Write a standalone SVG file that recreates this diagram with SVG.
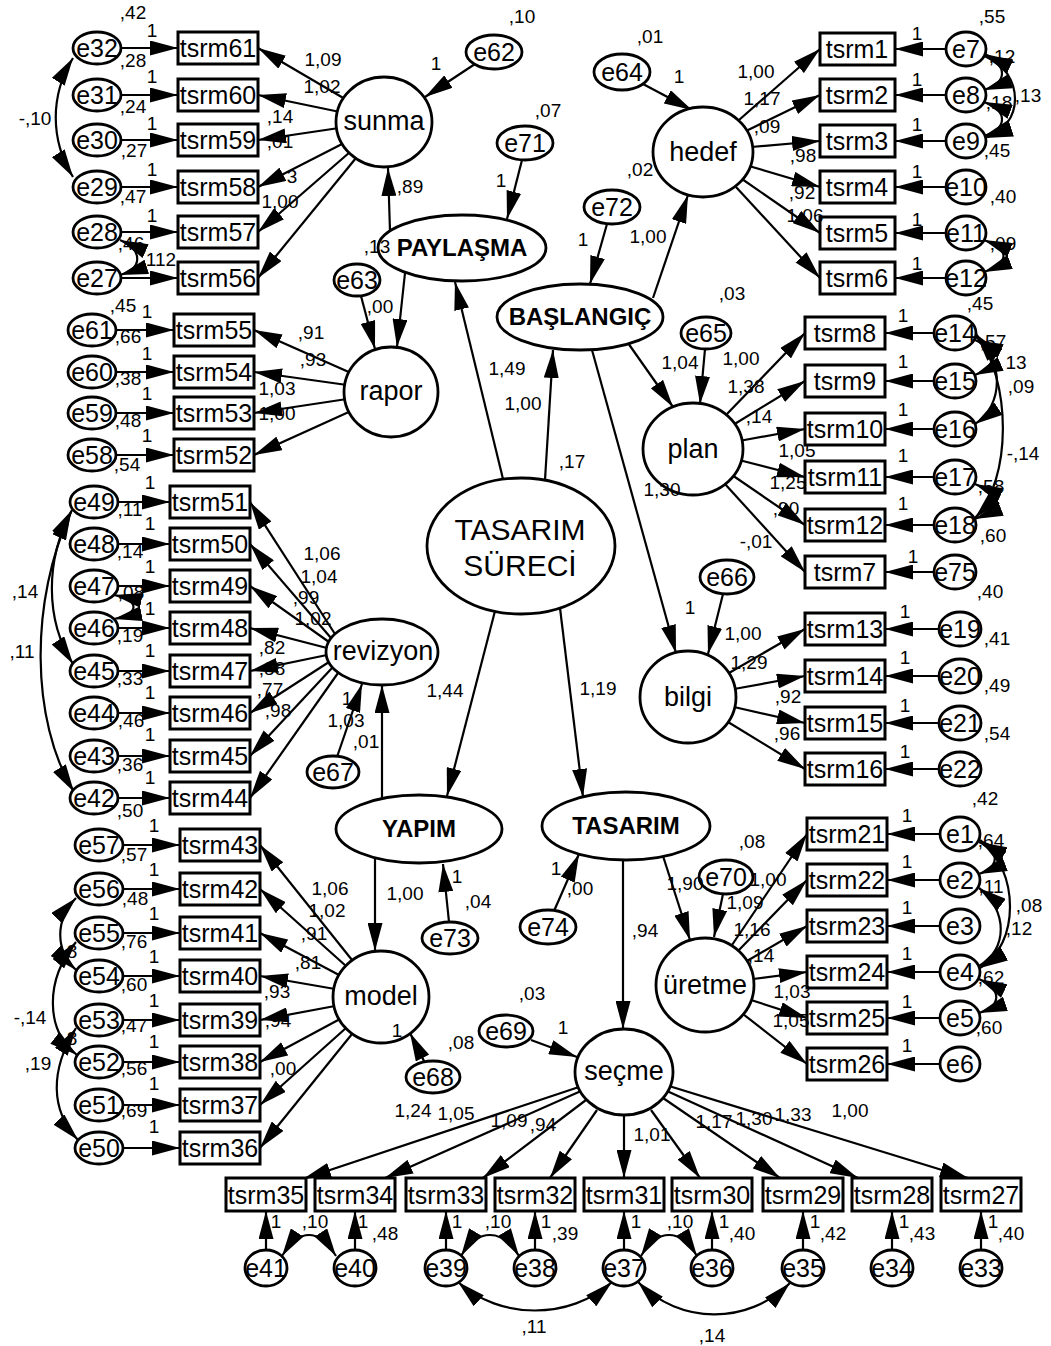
<svg xmlns="http://www.w3.org/2000/svg" width="1051" height="1346" viewBox="0 0 1051 1346">
<defs>
<marker id="a" viewBox="0 0 28 15" refX="28" refY="7.5" markerWidth="28" markerHeight="15" markerUnits="userSpaceOnUse" orient="auto-start-reverse"><path d="M0,0 L28,7.5 L0,15 z" fill="#000"/></marker>
</defs>
<style>
.c line,.c path{stroke:#000;stroke-width:2.2;fill:none;marker-end:url(#a)}
.c path.cv{marker-start:url(#a)}
.bx{fill:#fff;stroke:#000;stroke-width:3}
ellipse{fill:#fff;stroke:#000;stroke-width:2.8}
text{font-family:"Liberation Sans",Arial,sans-serif;text-anchor:middle;fill:#000}
.t{font-size:25px}
.e{font-size:25px}
.l{font-size:27px}
.b{font-size:24px;font-weight:bold}
.g{font-size:30px}
.n{font-size:19px}
</style>
<rect x="0" y="0" width="1051" height="1346" style="fill:#fff"/>
<g class="c" id="connectors">
<line x1="345" y1="99" x2="258" y2="48"/>
<line x1="340" y1="112" x2="258" y2="95"/>
<line x1="339" y1="128" x2="258" y2="140"/>
<line x1="344" y1="143" x2="258" y2="187"/>
<line x1="350" y1="152" x2="258" y2="232"/>
<line x1="356" y1="158" x2="258" y2="278"/>
<line x1="121" y1="48" x2="178" y2="48"/>
<line x1="121" y1="95" x2="178" y2="95"/>
<line x1="121" y1="140" x2="178" y2="140"/>
<line x1="121" y1="187" x2="178" y2="187"/>
<line x1="121" y1="232" x2="178" y2="232"/>
<line x1="121" y1="278" x2="178" y2="278"/>
<line x1="351" y1="373" x2="254" y2="330"/>
<line x1="347" y1="385" x2="254" y2="372"/>
<line x1="347" y1="399" x2="254" y2="413"/>
<line x1="351" y1="411" x2="254" y2="455"/>
<line x1="116" y1="330" x2="174" y2="330"/>
<line x1="116" y1="372" x2="174" y2="372"/>
<line x1="116" y1="413" x2="174" y2="413"/>
<line x1="116" y1="455" x2="174" y2="455"/>
<line x1="335" y1="634" x2="250" y2="502"/>
<line x1="331" y1="638" x2="250" y2="544"/>
<line x1="329" y1="642" x2="250" y2="586"/>
<line x1="327" y1="648" x2="250" y2="628"/>
<line x1="327" y1="655" x2="250" y2="671"/>
<line x1="329" y1="662" x2="250" y2="713"/>
<line x1="332" y1="668" x2="250" y2="756"/>
<line x1="338" y1="673" x2="250" y2="798"/>
<line x1="118" y1="502" x2="170" y2="502"/>
<line x1="118" y1="544" x2="170" y2="544"/>
<line x1="118" y1="586" x2="170" y2="586"/>
<line x1="118" y1="628" x2="170" y2="628"/>
<line x1="118" y1="671" x2="170" y2="671"/>
<line x1="118" y1="713" x2="170" y2="713"/>
<line x1="118" y1="756" x2="170" y2="756"/>
<line x1="118" y1="798" x2="170" y2="798"/>
<line x1="352" y1="960" x2="260" y2="845"/>
<line x1="346" y1="966" x2="260" y2="889"/>
<line x1="339" y1="975" x2="260" y2="933"/>
<line x1="335" y1="989" x2="260" y2="976"/>
<line x1="335" y1="1006" x2="260" y2="1020"/>
<line x1="340" y1="1019" x2="260" y2="1062"/>
<line x1="346" y1="1028" x2="260" y2="1105"/>
<line x1="352" y1="1034" x2="260" y2="1148"/>
<line x1="123" y1="845" x2="180" y2="845"/>
<line x1="123" y1="889" x2="180" y2="889"/>
<line x1="123" y1="933" x2="180" y2="933"/>
<line x1="123" y1="976" x2="180" y2="976"/>
<line x1="123" y1="1020" x2="180" y2="1020"/>
<line x1="123" y1="1062" x2="180" y2="1062"/>
<line x1="123" y1="1105" x2="180" y2="1105"/>
<line x1="123" y1="1148" x2="180" y2="1148"/>
<line x1="739" y1="120" x2="820" y2="49"/>
<line x1="746" y1="131" x2="820" y2="95"/>
<line x1="751" y1="147" x2="820" y2="141"/>
<line x1="749" y1="166" x2="820" y2="187"/>
<line x1="742" y1="179" x2="820" y2="233"/>
<line x1="736" y1="187" x2="820" y2="278"/>
<line x1="946" y1="49" x2="895" y2="49"/>
<line x1="946" y1="95" x2="895" y2="95"/>
<line x1="946" y1="141" x2="895" y2="141"/>
<line x1="946" y1="187" x2="895" y2="187"/>
<line x1="946" y1="233" x2="895" y2="233"/>
<line x1="946" y1="278" x2="895" y2="278"/>
<line x1="726" y1="415" x2="805" y2="333"/>
<line x1="733" y1="425" x2="805" y2="381"/>
<line x1="739" y1="441" x2="805" y2="429"/>
<line x1="739" y1="460" x2="805" y2="477"/>
<line x1="732" y1="475" x2="805" y2="525"/>
<line x1="725" y1="484" x2="805" y2="572"/>
<line x1="934" y1="333" x2="885" y2="333"/>
<line x1="934" y1="381" x2="885" y2="381"/>
<line x1="934" y1="429" x2="885" y2="429"/>
<line x1="934" y1="477" x2="885" y2="477"/>
<line x1="934" y1="525" x2="885" y2="525"/>
<line x1="934" y1="572" x2="885" y2="572"/>
<line x1="729" y1="673" x2="805" y2="629"/>
<line x1="734" y1="689" x2="805" y2="676"/>
<line x1="734" y1="707" x2="805" y2="723"/>
<line x1="728" y1="722" x2="805" y2="769"/>
<line x1="939" y1="629" x2="885" y2="629"/>
<line x1="939" y1="676" x2="885" y2="676"/>
<line x1="939" y1="723" x2="885" y2="723"/>
<line x1="939" y1="769" x2="885" y2="769"/>
<line x1="732" y1="945" x2="807" y2="834"/>
<line x1="738" y1="951" x2="807" y2="880"/>
<line x1="747" y1="961" x2="807" y2="926"/>
<line x1="753" y1="979" x2="807" y2="972"/>
<line x1="751" y1="1000" x2="807" y2="1018"/>
<line x1="743" y1="1014" x2="807" y2="1064"/>
<line x1="940" y1="834" x2="887" y2="834"/>
<line x1="940" y1="880" x2="887" y2="880"/>
<line x1="940" y1="926" x2="887" y2="926"/>
<line x1="940" y1="972" x2="887" y2="972"/>
<line x1="940" y1="1018" x2="887" y2="1018"/>
<line x1="940" y1="1064" x2="887" y2="1064"/>
<line x1="579" y1="1087" x2="303" y2="1179"/>
<line x1="581" y1="1091" x2="385" y2="1178"/>
<line x1="586" y1="1100" x2="483" y2="1178"/>
<line x1="597" y1="1110" x2="550" y2="1178"/>
<line x1="624" y1="1115" x2="624" y2="1178"/>
<line x1="651" y1="1110" x2="700" y2="1178"/>
<line x1="663" y1="1098" x2="780" y2="1178"/>
<line x1="667" y1="1091" x2="858" y2="1178"/>
<line x1="669" y1="1086" x2="968" y2="1178"/>
<line x1="266" y1="1250" x2="266" y2="1211"/>
<line x1="355" y1="1250" x2="355" y2="1211"/>
<line x1="446" y1="1250" x2="446" y2="1211"/>
<line x1="535" y1="1250" x2="535" y2="1211"/>
<line x1="624" y1="1250" x2="624" y2="1211"/>
<line x1="712" y1="1250" x2="712" y2="1211"/>
<line x1="803" y1="1250" x2="803" y2="1211"/>
<line x1="892" y1="1250" x2="892" y2="1211"/>
<line x1="981" y1="1250" x2="981" y2="1211"/>
<line x1="503" y1="479" x2="455" y2="282"/>
<line x1="545" y1="480" x2="553" y2="350"/>
<line x1="495" y1="611" x2="447" y2="796"/>
<line x1="560" y1="608" x2="583" y2="797"/>
<line x1="390" y1="231" x2="388" y2="168"/>
<line x1="405" y1="273" x2="397" y2="347"/>
<line x1="653" y1="298" x2="688" y2="195"/>
<line x1="628" y1="343" x2="673" y2="407"/>
<line x1="592" y1="350" x2="676" y2="653"/>
<line x1="382" y1="798" x2="382" y2="685"/>
<line x1="375" y1="858" x2="375" y2="951"/>
<line x1="623" y1="860" x2="623" y2="1029"/>
<line x1="663" y1="856" x2="690" y2="940"/>
<line x1="475" y1="64" x2="425" y2="97"/>
<line x1="361" y1="296" x2="375" y2="349"/>
<line x1="522" y1="160" x2="507" y2="219"/>
<line x1="607" y1="224" x2="590" y2="284"/>
<line x1="643" y1="84" x2="692" y2="110"/>
<line x1="705" y1="349" x2="700" y2="404"/>
<line x1="723" y1="594" x2="708" y2="654"/>
<line x1="337" y1="757" x2="362" y2="684"/>
<line x1="449" y1="922" x2="443" y2="864"/>
<line x1="554" y1="911" x2="579" y2="854"/>
<line x1="723" y1="894" x2="714" y2="937"/>
<line x1="531" y1="1040" x2="577" y2="1057"/>
<line x1="425" y1="1063" x2="410" y2="1033"/>
<path class="cv" d="M73,58 C50,95 50,140 73,177"/>
<path class="cv" d="M120,240 C143,250 143,268 120,275"/>
<path class="cv" d="M72,510 C45,560 45,620 73,664"/>
<path class="cv" d="M71,512 C30,600 30,720 74,792"/>
<path class="cv" d="M114,595 C140,600 140,614 114,619"/>
<path class="cv" d="M76,898 C55,920 55,950 76,970"/>
<path class="cv" d="M76,942 C45,980 45,1030 77,1055"/>
<path class="cv" d="M76,1028 C50,1070 50,1110 78,1140"/>
<path class="cv" d="M984,56 C1008,65 1008,82 984,90"/>
<path class="cv" d="M984,102 C1008,111 1008,128 984,136"/>
<path class="cv" d="M985,54 C1025,75 1025,125 985,138"/>
<path class="cv" d="M984,240 C1010,250 1010,262 984,272"/>
<path class="cv" d="M975,340 C998,350 998,365 975,375"/>
<path class="cv" d="M976,337 C1004,360 1004,405 975,424"/>
<path class="cv" d="M976,334 C1012,380 1012,480 975,518"/>
<path class="cv" d="M975,484 C998,494 998,510 975,519"/>
<path class="cv" d="M979,842 C1000,852 1000,866 979,874"/>
<path class="cv" d="M979,888 C1008,910 1008,950 979,966"/>
<path class="cv" d="M980,840 C1020,870 1020,945 980,968"/>
<path class="cv" d="M979,979 C1002,990 1002,1005 979,1013"/>
<path class="cv" d="M282,1256 C300,1228 318,1228 336,1256"/>
<path class="cv" d="M461,1256 C478,1228 502,1228 519,1256"/>
<path class="cv" d="M641,1256 C658,1228 680,1228 697,1256"/>
<path class="cv" d="M458,1282 C500,1320 570,1320 612,1282"/>
<path class="cv" d="M638,1282 C680,1325 748,1325 790,1283"/>
</g>
<g id="TASARIM_SURECI"><ellipse cx="521" cy="546" rx="94" ry="68"/><text class="g" x="520" y="540">TASARIM</text><text class="g" x="520" y="576">SÜRECİ</text></g>
<g id="PAYLASMA"><ellipse cx="462" cy="248" rx="84" ry="33"/><text class="b" x="462" y="256">PAYLAŞMA</text></g>
<g id="BASLANGIC"><ellipse cx="580" cy="317" rx="83" ry="33"/><text class="b" x="580" y="325">BAŞLANGIÇ</text></g>
<g id="YAPIM"><ellipse cx="419" cy="829" rx="83" ry="34"/><text class="b" x="419" y="837">YAPIM</text></g>
<g id="TASARIM"><ellipse cx="626" cy="826" rx="84" ry="34"/><text class="b" x="626" y="834">TASARIM</text></g>
<g id="sunma"><ellipse cx="384" cy="122" rx="48" ry="45"/><text class="l" x="384" y="130">sunma</text></g>
<g id="rapor"><ellipse cx="391" cy="392" rx="47" ry="45"/><text class="l" x="391" y="400">rapor</text></g>
<g id="revizyon"><ellipse cx="382" cy="652" rx="56" ry="33"/><text class="l" x="383" y="660">revizyon</text></g>
<g id="model"><ellipse cx="381" cy="997" rx="48" ry="46"/><text class="l" x="381" y="1005">model</text></g>
<g id="hedef"><ellipse cx="703" cy="152" rx="50" ry="45"/><text class="l" x="703" y="161">hedef</text></g>
<g id="plan"><ellipse cx="693" cy="449" rx="50" ry="46"/><text class="l" x="693" y="458">plan</text></g>
<g id="bilgi"><ellipse cx="688" cy="697" rx="48" ry="46"/><text class="l" x="688" y="706">bilgi</text></g>
<g id="uretme"><ellipse cx="705" cy="985" rx="49" ry="47"/><text class="l" x="705" y="994">üretme</text></g>
<g id="secme"><ellipse cx="624" cy="1072" rx="49" ry="43"/><text class="l" x="624" y="1080">seçme</text></g>
<g id="e62"><ellipse cx="494" cy="52" rx="28" ry="17"/><text class="e" x="494" y="61">e62</text></g>
<g id="e71"><ellipse cx="525" cy="143" rx="28" ry="17"/><text class="e" x="525" y="152">e71</text></g>
<g id="e63"><ellipse cx="357" cy="280" rx="23" ry="16"/><text class="e" x="357" y="289">e63</text></g>
<g id="e72"><ellipse cx="612" cy="207" rx="28" ry="17"/><text class="e" x="612" y="216">e72</text></g>
<g id="e64"><ellipse cx="622" cy="72" rx="28" ry="18"/><text class="e" x="622" y="81">e64</text></g>
<g id="e65"><ellipse cx="706" cy="333" rx="25" ry="16"/><text class="e" x="706" y="342">e65</text></g>
<g id="e66"><ellipse cx="727" cy="577" rx="27" ry="17"/><text class="e" x="727" y="586">e66</text></g>
<g id="e67"><ellipse cx="333" cy="772" rx="26" ry="16"/><text class="e" x="333" y="781">e67</text></g>
<g id="e73"><ellipse cx="450" cy="938" rx="28" ry="16"/><text class="e" x="450" y="947">e73</text></g>
<g id="e74"><ellipse cx="548" cy="927" rx="28" ry="17"/><text class="e" x="548" y="936">e74</text></g>
<g id="e70"><ellipse cx="726" cy="877" rx="27" ry="17"/><text class="e" x="726" y="886">e70</text></g>
<g id="e69"><ellipse cx="506" cy="1031" rx="27" ry="16"/><text class="e" x="506" y="1040">e69</text></g>
<g id="e68"><ellipse cx="433" cy="1077" rx="27" ry="16"/><text class="e" x="433" y="1086">e68</text></g>
<g id="tsrm61"><rect class="bx" x="178" y="32" width="80" height="32"/><text class="t" x="218" y="57">tsrm61</text></g>
<g id="tsrm60"><rect class="bx" x="178" y="79" width="80" height="32"/><text class="t" x="218" y="104">tsrm60</text></g>
<g id="tsrm59"><rect class="bx" x="178" y="124" width="80" height="32"/><text class="t" x="218" y="149">tsrm59</text></g>
<g id="tsrm58"><rect class="bx" x="178" y="171" width="80" height="32"/><text class="t" x="218" y="196">tsrm58</text></g>
<g id="tsrm57"><rect class="bx" x="178" y="216" width="80" height="32"/><text class="t" x="218" y="241">tsrm57</text></g>
<g id="tsrm56"><rect class="bx" x="178" y="262" width="80" height="32"/><text class="t" x="218" y="287">tsrm56</text></g>
<g id="e32"><ellipse cx="97" cy="48" rx="24" ry="16"/><text class="e" x="97" y="57">e32</text></g>
<g id="e31"><ellipse cx="97" cy="95" rx="24" ry="16"/><text class="e" x="97" y="104">e31</text></g>
<g id="e30"><ellipse cx="97" cy="140" rx="24" ry="16"/><text class="e" x="97" y="149">e30</text></g>
<g id="e29"><ellipse cx="97" cy="187" rx="24" ry="16"/><text class="e" x="97" y="196">e29</text></g>
<g id="e28"><ellipse cx="97" cy="232" rx="24" ry="16"/><text class="e" x="97" y="241">e28</text></g>
<g id="e27"><ellipse cx="97" cy="278" rx="24" ry="16"/><text class="e" x="97" y="287">e27</text></g>
<g id="tsrm55"><rect class="bx" x="174" y="314" width="80" height="32"/><text class="t" x="214" y="339">tsrm55</text></g>
<g id="tsrm54"><rect class="bx" x="174" y="356" width="80" height="32"/><text class="t" x="214" y="381">tsrm54</text></g>
<g id="tsrm53"><rect class="bx" x="174" y="397" width="80" height="32"/><text class="t" x="214" y="422">tsrm53</text></g>
<g id="tsrm52"><rect class="bx" x="174" y="439" width="80" height="32"/><text class="t" x="214" y="464">tsrm52</text></g>
<g id="e61"><ellipse cx="92" cy="330" rx="24" ry="16"/><text class="e" x="92" y="339">e61</text></g>
<g id="e60"><ellipse cx="92" cy="372" rx="24" ry="16"/><text class="e" x="92" y="381">e60</text></g>
<g id="e59"><ellipse cx="92" cy="413" rx="24" ry="16"/><text class="e" x="92" y="422">e59</text></g>
<g id="e58"><ellipse cx="92" cy="455" rx="24" ry="16"/><text class="e" x="92" y="464">e58</text></g>
<g id="tsrm51"><rect class="bx" x="170" y="486" width="80" height="32"/><text class="t" x="210" y="511">tsrm51</text></g>
<g id="tsrm50"><rect class="bx" x="170" y="528" width="80" height="32"/><text class="t" x="210" y="553">tsrm50</text></g>
<g id="tsrm49"><rect class="bx" x="170" y="570" width="80" height="32"/><text class="t" x="210" y="595">tsrm49</text></g>
<g id="tsrm48"><rect class="bx" x="170" y="612" width="80" height="32"/><text class="t" x="210" y="637">tsrm48</text></g>
<g id="tsrm47"><rect class="bx" x="170" y="655" width="80" height="32"/><text class="t" x="210" y="680">tsrm47</text></g>
<g id="tsrm46"><rect class="bx" x="170" y="697" width="80" height="32"/><text class="t" x="210" y="722">tsrm46</text></g>
<g id="tsrm45"><rect class="bx" x="170" y="740" width="80" height="32"/><text class="t" x="210" y="765">tsrm45</text></g>
<g id="tsrm44"><rect class="bx" x="170" y="782" width="80" height="32"/><text class="t" x="210" y="807">tsrm44</text></g>
<g id="e49"><ellipse cx="94" cy="502" rx="24" ry="16"/><text class="e" x="94" y="511">e49</text></g>
<g id="e48"><ellipse cx="94" cy="544" rx="24" ry="16"/><text class="e" x="94" y="553">e48</text></g>
<g id="e47"><ellipse cx="94" cy="586" rx="24" ry="16"/><text class="e" x="94" y="595">e47</text></g>
<g id="e46"><ellipse cx="94" cy="628" rx="24" ry="16"/><text class="e" x="94" y="637">e46</text></g>
<g id="e45"><ellipse cx="94" cy="671" rx="24" ry="16"/><text class="e" x="94" y="680">e45</text></g>
<g id="e44"><ellipse cx="94" cy="713" rx="24" ry="16"/><text class="e" x="94" y="722">e44</text></g>
<g id="e43"><ellipse cx="94" cy="756" rx="24" ry="16"/><text class="e" x="94" y="765">e43</text></g>
<g id="e42"><ellipse cx="94" cy="798" rx="24" ry="16"/><text class="e" x="94" y="807">e42</text></g>
<g id="tsrm43"><rect class="bx" x="180" y="829" width="80" height="32"/><text class="t" x="220" y="854">tsrm43</text></g>
<g id="tsrm42"><rect class="bx" x="180" y="873" width="80" height="32"/><text class="t" x="220" y="898">tsrm42</text></g>
<g id="tsrm41"><rect class="bx" x="180" y="917" width="80" height="32"/><text class="t" x="220" y="942">tsrm41</text></g>
<g id="tsrm40"><rect class="bx" x="180" y="960" width="80" height="32"/><text class="t" x="220" y="985">tsrm40</text></g>
<g id="tsrm39"><rect class="bx" x="180" y="1004" width="80" height="32"/><text class="t" x="220" y="1029">tsrm39</text></g>
<g id="tsrm38"><rect class="bx" x="180" y="1046" width="80" height="32"/><text class="t" x="220" y="1071">tsrm38</text></g>
<g id="tsrm37"><rect class="bx" x="180" y="1089" width="80" height="32"/><text class="t" x="220" y="1114">tsrm37</text></g>
<g id="tsrm36"><rect class="bx" x="180" y="1132" width="80" height="32"/><text class="t" x="220" y="1157">tsrm36</text></g>
<g id="e57"><ellipse cx="99" cy="845" rx="24" ry="16"/><text class="e" x="99" y="854">e57</text></g>
<g id="e56"><ellipse cx="99" cy="889" rx="24" ry="16"/><text class="e" x="99" y="898">e56</text></g>
<g id="e55"><ellipse cx="99" cy="933" rx="24" ry="16"/><text class="e" x="99" y="942">e55</text></g>
<g id="e54"><ellipse cx="99" cy="976" rx="24" ry="16"/><text class="e" x="99" y="985">e54</text></g>
<g id="e53"><ellipse cx="99" cy="1020" rx="24" ry="16"/><text class="e" x="99" y="1029">e53</text></g>
<g id="e52"><ellipse cx="99" cy="1062" rx="24" ry="16"/><text class="e" x="99" y="1071">e52</text></g>
<g id="e51"><ellipse cx="99" cy="1105" rx="24" ry="16"/><text class="e" x="99" y="1114">e51</text></g>
<g id="e50"><ellipse cx="99" cy="1148" rx="24" ry="16"/><text class="e" x="99" y="1157">e50</text></g>
<g id="tsrm1"><rect class="bx" x="820" y="33" width="75" height="32"/><text class="t" x="857" y="58">tsrm1</text></g>
<g id="tsrm2"><rect class="bx" x="820" y="79" width="75" height="32"/><text class="t" x="857" y="104">tsrm2</text></g>
<g id="tsrm3"><rect class="bx" x="820" y="125" width="75" height="32"/><text class="t" x="857" y="150">tsrm3</text></g>
<g id="tsrm4"><rect class="bx" x="820" y="171" width="75" height="32"/><text class="t" x="857" y="196">tsrm4</text></g>
<g id="tsrm5"><rect class="bx" x="820" y="217" width="75" height="32"/><text class="t" x="857" y="242">tsrm5</text></g>
<g id="tsrm6"><rect class="bx" x="820" y="262" width="75" height="32"/><text class="t" x="857" y="287">tsrm6</text></g>
<g id="e7"><ellipse cx="966" cy="49" rx="20" ry="17"/><text class="e" x="966" y="58">e7</text></g>
<g id="e8"><ellipse cx="966" cy="95" rx="20" ry="17"/><text class="e" x="966" y="104">e8</text></g>
<g id="e9"><ellipse cx="966" cy="141" rx="20" ry="17"/><text class="e" x="966" y="150">e9</text></g>
<g id="e10"><ellipse cx="966" cy="187" rx="20" ry="17"/><text class="e" x="966" y="196">e10</text></g>
<g id="e11"><ellipse cx="966" cy="233" rx="20" ry="17"/><text class="e" x="966" y="242">e11</text></g>
<g id="e12"><ellipse cx="966" cy="278" rx="20" ry="17"/><text class="e" x="966" y="287">e12</text></g>
<g id="tsrm8"><rect class="bx" x="805" y="317" width="80" height="32"/><text class="t" x="845" y="342">tsrm8</text></g>
<g id="tsrm9"><rect class="bx" x="805" y="365" width="80" height="32"/><text class="t" x="845" y="390">tsrm9</text></g>
<g id="tsrm10"><rect class="bx" x="805" y="413" width="80" height="32"/><text class="t" x="845" y="438">tsrm10</text></g>
<g id="tsrm11"><rect class="bx" x="805" y="461" width="80" height="32"/><text class="t" x="845" y="486">tsrm11</text></g>
<g id="tsrm12"><rect class="bx" x="805" y="509" width="80" height="32"/><text class="t" x="845" y="534">tsrm12</text></g>
<g id="tsrm7"><rect class="bx" x="805" y="556" width="80" height="32"/><text class="t" x="845" y="581">tsrm7</text></g>
<g id="e14"><ellipse cx="955" cy="333" rx="21" ry="17"/><text class="e" x="955" y="342">e14</text></g>
<g id="e15"><ellipse cx="955" cy="381" rx="21" ry="17"/><text class="e" x="955" y="390">e15</text></g>
<g id="e16"><ellipse cx="955" cy="429" rx="21" ry="17"/><text class="e" x="955" y="438">e16</text></g>
<g id="e17"><ellipse cx="955" cy="477" rx="21" ry="17"/><text class="e" x="955" y="486">e17</text></g>
<g id="e18"><ellipse cx="955" cy="525" rx="21" ry="17"/><text class="e" x="955" y="534">e18</text></g>
<g id="e75"><ellipse cx="955" cy="572" rx="21" ry="17"/><text class="e" x="955" y="581">e75</text></g>
<g id="tsrm13"><rect class="bx" x="805" y="613" width="80" height="32"/><text class="t" x="845" y="638">tsrm13</text></g>
<g id="tsrm14"><rect class="bx" x="805" y="660" width="80" height="32"/><text class="t" x="845" y="685">tsrm14</text></g>
<g id="tsrm15"><rect class="bx" x="805" y="707" width="80" height="32"/><text class="t" x="845" y="732">tsrm15</text></g>
<g id="tsrm16"><rect class="bx" x="805" y="753" width="80" height="32"/><text class="t" x="845" y="778">tsrm16</text></g>
<g id="e19"><ellipse cx="960" cy="629" rx="21" ry="17"/><text class="e" x="960" y="638">e19</text></g>
<g id="e20"><ellipse cx="960" cy="676" rx="21" ry="17"/><text class="e" x="960" y="685">e20</text></g>
<g id="e21"><ellipse cx="960" cy="723" rx="21" ry="17"/><text class="e" x="960" y="732">e21</text></g>
<g id="e22"><ellipse cx="960" cy="769" rx="21" ry="17"/><text class="e" x="960" y="778">e22</text></g>
<g id="tsrm21"><rect class="bx" x="807" y="818" width="80" height="32"/><text class="t" x="847" y="843">tsrm21</text></g>
<g id="tsrm22"><rect class="bx" x="807" y="864" width="80" height="32"/><text class="t" x="847" y="889">tsrm22</text></g>
<g id="tsrm23"><rect class="bx" x="807" y="910" width="80" height="32"/><text class="t" x="847" y="935">tsrm23</text></g>
<g id="tsrm24"><rect class="bx" x="807" y="956" width="80" height="32"/><text class="t" x="847" y="981">tsrm24</text></g>
<g id="tsrm25"><rect class="bx" x="807" y="1002" width="80" height="32"/><text class="t" x="847" y="1027">tsrm25</text></g>
<g id="tsrm26"><rect class="bx" x="807" y="1048" width="80" height="32"/><text class="t" x="847" y="1073">tsrm26</text></g>
<g id="e1"><ellipse cx="960" cy="834" rx="20" ry="17"/><text class="e" x="960" y="843">e1</text></g>
<g id="e2"><ellipse cx="960" cy="880" rx="20" ry="17"/><text class="e" x="960" y="889">e2</text></g>
<g id="e3"><ellipse cx="960" cy="926" rx="20" ry="17"/><text class="e" x="960" y="935">e3</text></g>
<g id="e4"><ellipse cx="960" cy="972" rx="20" ry="17"/><text class="e" x="960" y="981">e4</text></g>
<g id="e5"><ellipse cx="960" cy="1018" rx="20" ry="17"/><text class="e" x="960" y="1027">e5</text></g>
<g id="e6"><ellipse cx="960" cy="1064" rx="20" ry="17"/><text class="e" x="960" y="1073">e6</text></g>
<g id="tsrm35"><rect class="bx" x="226" y="1178" width="80" height="33"/><text class="t" x="266" y="1204">tsrm35</text></g>
<g id="tsrm34"><rect class="bx" x="315" y="1178" width="80" height="33"/><text class="t" x="355" y="1204">tsrm34</text></g>
<g id="tsrm33"><rect class="bx" x="406" y="1178" width="80" height="33"/><text class="t" x="446" y="1204">tsrm33</text></g>
<g id="tsrm32"><rect class="bx" x="495" y="1178" width="80" height="33"/><text class="t" x="535" y="1204">tsrm32</text></g>
<g id="tsrm31"><rect class="bx" x="584" y="1178" width="80" height="33"/><text class="t" x="624" y="1204">tsrm31</text></g>
<g id="tsrm30"><rect class="bx" x="672" y="1178" width="80" height="33"/><text class="t" x="712" y="1204">tsrm30</text></g>
<g id="tsrm29"><rect class="bx" x="763" y="1178" width="80" height="33"/><text class="t" x="803" y="1204">tsrm29</text></g>
<g id="tsrm28"><rect class="bx" x="852" y="1178" width="80" height="33"/><text class="t" x="892" y="1204">tsrm28</text></g>
<g id="tsrm27"><rect class="bx" x="941" y="1178" width="80" height="33"/><text class="t" x="981" y="1204">tsrm27</text></g>
<g id="e41"><ellipse cx="266" cy="1268" rx="21" ry="18"/><text class="e" x="266" y="1277">e41</text></g>
<g id="e40"><ellipse cx="355" cy="1268" rx="21" ry="18"/><text class="e" x="355" y="1277">e40</text></g>
<g id="e39"><ellipse cx="446" cy="1268" rx="21" ry="18"/><text class="e" x="446" y="1277">e39</text></g>
<g id="e38"><ellipse cx="535" cy="1268" rx="21" ry="18"/><text class="e" x="535" y="1277">e38</text></g>
<g id="e37"><ellipse cx="624" cy="1268" rx="21" ry="18"/><text class="e" x="624" y="1277">e37</text></g>
<g id="e36"><ellipse cx="712" cy="1268" rx="21" ry="18"/><text class="e" x="712" y="1277">e36</text></g>
<g id="e35"><ellipse cx="803" cy="1268" rx="21" ry="18"/><text class="e" x="803" y="1277">e35</text></g>
<g id="e34"><ellipse cx="892" cy="1268" rx="21" ry="18"/><text class="e" x="892" y="1277">e34</text></g>
<g id="e33"><ellipse cx="981" cy="1268" rx="21" ry="18"/><text class="e" x="981" y="1277">e33</text></g>
<g id="labels">
<text class="n" x="133" y="19">,42</text><text class="n" x="152" y="37">1</text><text class="n" x="133" y="67">,28</text>
<text class="n" x="152" y="83">1</text><text class="n" x="133" y="113">,24</text><text class="n" x="152" y="130">1</text>
<text class="n" x="134" y="157">,27</text><text class="n" x="152" y="176">1</text><text class="n" x="133" y="203">,47</text>
<text class="n" x="152" y="222">1</text><text class="n" x="131" y="250">,46</text><text class="n" x="161" y="266">112</text>
<text class="n" x="123" y="312">,45</text><text class="n" x="35" y="125">-,10</text>
<text class="n" x="323" y="66">1,09</text><text class="n" x="322" y="93">1,02</text><text class="n" x="280" y="123">,14</text>
<text class="n" x="280" y="148">,01</text><text class="n" x="292" y="183">3</text><text class="n" x="280" y="208">1,00</text>
<text class="n" x="522" y="23">,10</text><text class="n" x="436" y="70">1</text><text class="n" x="548" y="117">,07</text>
<text class="n" x="501" y="187">1</text><text class="n" x="410" y="193">,89</text><text class="n" x="377" y="253">,13</text>
<text class="n" x="380" y="313">,00</text><text class="n" x="583" y="246">1</text><text class="n" x="640" y="176">,02</text>
<text class="n" x="648" y="243">1,00</text><text class="n" x="650" y="43">,01</text><text class="n" x="679" y="83">1</text>
<text class="n" x="756" y="78">1,00</text><text class="n" x="762" y="105">1,17</text><text class="n" x="767" y="133">,09</text>
<text class="n" x="803" y="162">,98</text><text class="n" x="802" y="199">,92</text><text class="n" x="805" y="222">1,06</text>
<text class="n" x="917" y="40">1</text><text class="n" x="917" y="86">1</text><text class="n" x="917" y="131">1</text>
<text class="n" x="917" y="178">1</text><text class="n" x="917" y="226">1</text><text class="n" x="917" y="270">1</text>
<text class="n" x="992" y="23">,55</text><text class="n" x="1002" y="63">,12</text><text class="n" x="1028" y="102">,13</text>
<text class="n" x="999" y="109">,18</text><text class="n" x="997" y="157">,45</text><text class="n" x="1003" y="203">,40</text>
<text class="n" x="1003" y="250">,09</text><text class="n" x="980" y="310">,45</text>
<text class="n" x="732" y="300">,03</text><text class="n" x="680" y="369">1,04</text><text class="n" x="741" y="365">1,00</text>
<text class="n" x="746" y="393">1,38</text><text class="n" x="759" y="423">,14</text><text class="n" x="797" y="457">1,05</text>
<text class="n" x="788" y="489">1,25</text><text class="n" x="786" y="515">,90</text><text class="n" x="756" y="548">-,01</text>
<text class="n" x="662" y="496">1,30</text>
<text class="n" x="903" y="322">1</text><text class="n" x="903" y="368">1</text><text class="n" x="903" y="416">1</text>
<text class="n" x="903" y="462">1</text><text class="n" x="903" y="510">1</text><text class="n" x="913" y="563">1</text>
<text class="n" x="993" y="348">,57</text><text class="n" x="1016" y="369">13</text><text class="n" x="1021" y="393">,09</text>
<text class="n" x="1023" y="460">-,14</text><text class="n" x="991" y="493">,58</text><text class="n" x="993" y="542">,60</text>
<text class="n" x="990" y="598">,40</text>
<text class="n" x="690" y="614">1</text><text class="n" x="743" y="640">1,00</text><text class="n" x="749" y="669">1,29</text>
<text class="n" x="788" y="703">,92</text><text class="n" x="787" y="740">,96</text>
<text class="n" x="905" y="618">1</text><text class="n" x="905" y="664">1</text><text class="n" x="905" y="712">1</text>
<text class="n" x="905" y="758">1</text>
<text class="n" x="997" y="645">,41</text><text class="n" x="997" y="692">,49</text><text class="n" x="997" y="740">,54</text>
<text class="n" x="985" y="805">,42</text><text class="n" x="752" y="848">,08</text><text class="n" x="685" y="890">1,90</text>
<text class="n" x="768" y="886">1,00</text><text class="n" x="745" y="909">1,09</text><text class="n" x="752" y="936">1,16</text>
<text class="n" x="761" y="962">,14</text><text class="n" x="792" y="998">1,03</text><text class="n" x="791" y="1027">1,05</text>
<text class="n" x="907" y="822">1</text><text class="n" x="907" y="868">1</text><text class="n" x="907" y="914">1</text>
<text class="n" x="907" y="960">1</text><text class="n" x="907" y="1008">1</text><text class="n" x="907" y="1052">1</text>
<text class="n" x="991" y="847">,64</text><text class="n" x="991" y="893">,11</text><text class="n" x="1029" y="912">,08</text>
<text class="n" x="1019" y="935">,12</text><text class="n" x="991" y="984">,62</text><text class="n" x="989" y="1034">,60</text>
<text class="n" x="507" y="375">1,49</text><text class="n" x="523" y="410">1,00</text><text class="n" x="572" y="468">,17</text>
<text class="n" x="445" y="697">1,44</text><text class="n" x="598" y="695">1,19</text><text class="n" x="405" y="900">1,00</text>
<text class="n" x="457" y="883">1</text><text class="n" x="478" y="908">,04</text><text class="n" x="556" y="875">1</text>
<text class="n" x="580" y="895">,00</text><text class="n" x="645" y="937">,94</text><text class="n" x="347" y="705">1</text>
<text class="n" x="346" y="727">1,03</text><text class="n" x="366" y="748">,01</text>
<text class="n" x="532" y="1000">,03</text><text class="n" x="563" y="1034">1</text><text class="n" x="461" y="1049">,08</text>
<text class="n" x="397" y="1037">1</text><text class="n" x="413" y="1117">1,24</text><text class="n" x="456" y="1120">1,05</text>
<text class="n" x="509" y="1127">1,09</text><text class="n" x="543" y="1131">,94</text><text class="n" x="652" y="1141">1,01</text>
<text class="n" x="714" y="1128">1,17</text><text class="n" x="754" y="1125">1,30</text><text class="n" x="793" y="1121">1,33</text>
<text class="n" x="850" y="1117">1,00</text>
<text class="n" x="276" y="1228">1</text><text class="n" x="363" y="1228">1</text><text class="n" x="457" y="1228">1</text>
<text class="n" x="546" y="1228">1</text><text class="n" x="636" y="1228">1</text><text class="n" x="724" y="1228">1</text>
<text class="n" x="815" y="1228">1</text><text class="n" x="904" y="1228">1</text><text class="n" x="993" y="1228">1</text>
<text class="n" x="315" y="1228">,10</text><text class="n" x="498" y="1228">,10</text><text class="n" x="680" y="1228">,10</text>
<text class="n" x="385" y="1240">,48</text><text class="n" x="565" y="1240">,39</text><text class="n" x="742" y="1240">,40</text>
<text class="n" x="833" y="1240">,42</text><text class="n" x="922" y="1240">,43</text><text class="n" x="1011" y="1240">,40</text>
<text class="n" x="534" y="1333">,11</text><text class="n" x="712" y="1342">,14</text>
<text class="n" x="147" y="318">1</text><text class="n" x="147" y="360">1</text><text class="n" x="147" y="400">1</text>
<text class="n" x="147" y="442">1</text>
<text class="n" x="128" y="343">,66</text><text class="n" x="128" y="385">,38</text><text class="n" x="128" y="427">,48</text>
<text class="n" x="127" y="471">,54</text>
<text class="n" x="311" y="339">,91</text><text class="n" x="313" y="366">,93</text><text class="n" x="277" y="395">1,03</text>
<text class="n" x="277" y="420">1,00</text>
<text class="n" x="150" y="489">1</text><text class="n" x="150" y="530">1</text><text class="n" x="150" y="573">1</text>
<text class="n" x="150" y="615">1</text><text class="n" x="150" y="657">1</text><text class="n" x="150" y="699">1</text>
<text class="n" x="150" y="741">1</text><text class="n" x="150" y="784">1</text>
<text class="n" x="130" y="516">,11</text><text class="n" x="130" y="558">,14</text><text class="n" x="131" y="599">,08</text>
<text class="n" x="130" y="642">,19</text><text class="n" x="130" y="685">,33</text><text class="n" x="131" y="727">,46</text>
<text class="n" x="130" y="771">,36</text><text class="n" x="130" y="817">,50</text>
<text class="n" x="25" y="598">,14</text><text class="n" x="22" y="658">,11</text>
<text class="n" x="322" y="560">1,06</text><text class="n" x="319" y="583">1,04</text><text class="n" x="306" y="604">,99</text>
<text class="n" x="313" y="625">1,02</text><text class="n" x="272" y="654">,82</text><text class="n" x="272" y="675">,88</text>
<text class="n" x="270" y="696">,77</text><text class="n" x="278" y="717">,98</text>
<text class="n" x="154" y="832">1</text><text class="n" x="154" y="876">1</text><text class="n" x="154" y="920">1</text>
<text class="n" x="154" y="963">1</text><text class="n" x="154" y="1007">1</text><text class="n" x="154" y="1048">1</text>
<text class="n" x="154" y="1090">1</text><text class="n" x="154" y="1133">1</text>
<text class="n" x="134" y="861">,57</text><text class="n" x="135" y="905">,48</text><text class="n" x="134" y="948">,76</text>
<text class="n" x="134" y="991">,60</text><text class="n" x="134" y="1032">,47</text><text class="n" x="134" y="1075">,56</text>
<text class="n" x="134" y="1117">,69</text>
<text class="n" x="72" y="958">8</text><text class="n" x="30" y="1024">-,14</text><text class="n" x="38" y="1070">,19</text>
<text class="n" x="72" y="1045">8</text>
<text class="n" x="330" y="895">1,06</text><text class="n" x="327" y="917">1,02</text><text class="n" x="314" y="940">,91</text>
<text class="n" x="308" y="969">,81</text><text class="n" x="277" y="998">,93</text><text class="n" x="278" y="1027">,94</text>
<text class="n" x="283" y="1075">,00</text>
</g>
</svg>
